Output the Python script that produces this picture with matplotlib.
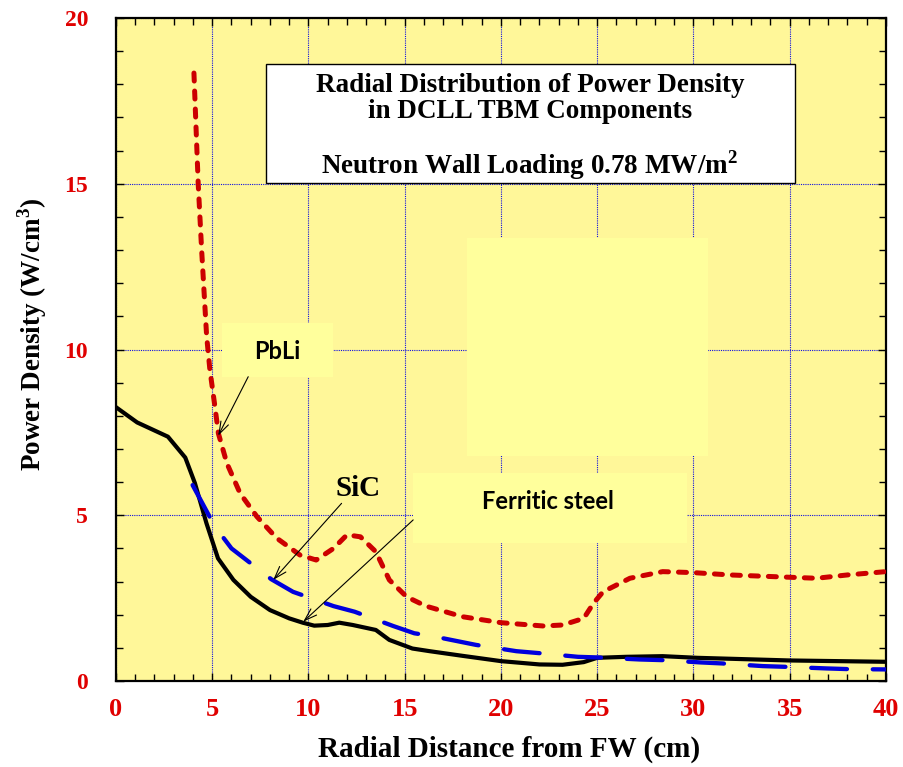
import matplotlib
matplotlib.use("Agg")
import matplotlib.pyplot as plt
from matplotlib.patches import Rectangle
from matplotlib.ticker import MultipleLocator

# radial power density profiles (W/cm3) vs distance from first wall (cm)
steel_x = [0.0, 1.1, 2.7, 3.6, 4.1, 4.7, 5.3, 6.1, 7.0, 8.0, 9.0, 9.7, 10.3, 11.0,
           11.6, 12.3, 13.5, 14.2, 15.4, 16.3, 18.0, 20.0, 22.0, 23.2, 24.3, 25.0,
           26.5, 28.4, 30.2, 35.0, 40.0]
steel_y = [8.26, 7.80, 7.37, 6.74, 5.97, 4.76, 3.70, 3.05, 2.54, 2.14, 1.89, 1.76, 1.67, 1.69,
           1.76, 1.69, 1.54, 1.24, 0.98, 0.90, 0.76, 0.60, 0.50, 0.49, 0.57, 0.70,
           0.73, 0.75, 0.70, 0.62, 0.58]

pbli_x = [4.05, 4.27, 4.45, 4.71, 4.88, 5.14, 5.32, 5.76, 6.45, 7.32, 8.35, 9.56, 10.4,
          11.3, 12.0, 12.7, 13.5, 14.2, 15.1, 16.1, 18.0, 20.0, 22.2, 23.2, 24.3, 24.8,
          25.3, 26.7, 28.4, 30.0, 31.9, 35.0, 36.4, 38.0, 40.0]
pbli_y = [18.34, 15.02, 13.0, 10.4, 9.38, 8.28, 7.47, 6.57, 5.66, 4.96, 4.31, 3.80, 3.65,
          4.0, 4.41, 4.35, 3.90, 3.05, 2.54, 2.26, 1.94, 1.76, 1.66, 1.69, 1.89, 2.34,
          2.69, 3.10, 3.30, 3.27, 3.20, 3.13, 3.10, 3.20, 3.30]

sic_x = [3.98, 5.14, 6.0, 8.07, 9.2, 11.3, 12.4, 14.4, 15.5, 16.3, 18.7, 20.8, 22.0, 24.0,
         25.1, 27.2, 28.4, 30.4, 31.5, 33.6, 34.7, 36.9, 38.0, 40.0]
sic_y = [5.91, 4.66, 4.0, 3.07, 2.69, 2.26, 2.09, 1.66, 1.44, 1.37, 1.09, 0.90, 0.84, 0.73,
         0.71, 0.65, 0.63, 0.56, 0.53, 0.45, 0.43, 0.38, 0.36, 0.35]

title_lines = ["Radial Distribution of Power Density", "in DCLL TBM Components",
               "Neutron Wall Loading 0.78 MW/m$^\\mathbf{2}$"]

bg = "#FFF799"
box_bg = "#FFFF9C"
serif = ["Liberation Serif", "DejaVu Serif"]
sans = ["Lato", "Open Sans", "DejaVu Sans"]

# superscripts in the same serif face as the labels
plt.rcParams["mathtext.fontset"] = "custom"
plt.rcParams["mathtext.rm"] = "Liberation Serif"
plt.rcParams["mathtext.bf"] = "Liberation Serif:bold"

fig = plt.figure(figsize=(9.04, 7.67), dpi=100)
ax = fig.add_axes([0.1283, 0.1121, 0.8517, 0.8644])
ax.set_facecolor(bg)
ax.set_xlim(0, 40)
ax.set_ylim(0, 20)

ax.set_axisbelow(True)
ax.xaxis.set_major_locator(MultipleLocator(5))
ax.yaxis.set_major_locator(MultipleLocator(5))
ax.xaxis.set_minor_locator(MultipleLocator(1))
ax.yaxis.set_minor_locator(MultipleLocator(1))
ax.grid(True, which="major", color="#1010E0", linestyle=(0, (1, 1)), linewidth=0.8)
ax.tick_params(which="both", direction="in", top=True, right=True, width=1.0)
ax.tick_params(which="major", length=6)
ax.tick_params(which="minor", length=5)
ax.tick_params(axis="x", pad=12, labelsize=19, labelcolor="#E00000")
ax.tick_params(axis="y", pad=20, labelsize=17, labelcolor="#E00000")
for lab in ax.get_xticklabels() + ax.get_yticklabels():
    lab.set_family(serif)
    lab.set_fontweight("bold")
for sp in ax.spines.values():
    sp.set_linewidth(1.6)

# light label panels sitting over the grid
for x0, y0, w, h in [(5.52, 9.17, 5.75, 1.63), (18.22, 6.79, 12.53, 6.58), (15.41, 4.16, 14.25, 2.12)]:
    ax.add_patch(Rectangle((x0, y0), w, h, facecolor=box_bg, edgecolor="none", zorder=1))

ax.plot(steel_x, steel_y, color="black", linewidth=3.0, zorder=3)
ax.plot(sic_x, sic_y, color="#0000DD", linewidth=3.1, dashes=(8.3, 6.0),
        dash_capstyle="round", zorder=3)
ax.plot(pbli_x, pbli_y, color="#CC0000", linewidth=3.6, dashes=(1.6, 2.0),
        dash_capstyle="round", zorder=3)

# title panel
ax.add_patch(Rectangle((7.86, 14.98), 27.48, 3.59, facecolor="#A0A0A0", edgecolor="none", zorder=4))
ax.add_patch(Rectangle((7.79, 15.03), 27.48, 3.59, facecolor="white", edgecolor="black",
                       linewidth=1.0, zorder=5))
for ty, line in zip([17.95, 17.17, 15.57], title_lines):
    ax.text(21.5, ty, line, ha="center", va="center", fontsize=19.5,
            fontweight="bold", family=serif, zorder=6)

arrow = dict(arrowstyle="->,head_length=0.9,head_width=0.3", color="black", linewidth=0.8,
             shrinkA=0, shrinkB=0)
ax.annotate("", xy=(5.31, 7.40), xytext=(6.87, 9.18), arrowprops=arrow, zorder=6)
ax.annotate("", xy=(8.17, 3.05), xytext=(11.72, 5.36), arrowprops=arrow, zorder=6)
ax.annotate("", xy=(9.73, 1.79), xytext=(15.44, 4.86), arrowprops=arrow, zorder=6)

ax.text(8.39, 9.93, "PbLi", ha="center", va="center", fontsize=17, fontweight="bold",
        family=sans, zorder=6)
ax.text(12.57, 5.82, "SiC", ha="center", va="center", fontsize=21, fontweight="bold",
        family=serif, zorder=6)
ax.text(22.46, 5.41, "Ferritic steel", ha="center", va="center", fontsize=17,
        fontweight="bold", family=sans, zorder=6)

ax.set_xlabel("Radial Distance from FW (cm)", fontsize=21, fontweight="bold", family=serif)
ax.set_ylabel("Power Density (W/cm$^\\mathbf{3}$)", fontsize=19.5, fontweight="bold", family=serif)
ax.xaxis.set_label_coords(0.51, -0.082)
ax.yaxis.set_label_coords(-0.087, 0.523)

fig.savefig("out.png", dpi=100)
